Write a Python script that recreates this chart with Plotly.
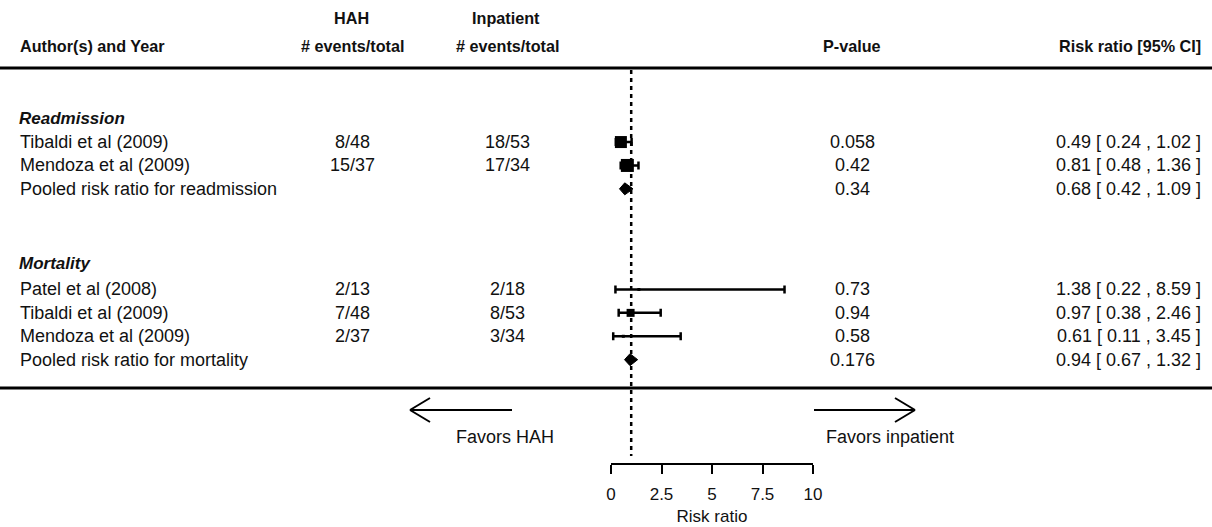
import plotly.graph_objects as go

# ---------------- data ----------------
authors = ["Tibaldi et al (2009)", "Mendoza et al (2009)", "Pooled risk ratio for readmission",
           "Patel et al (2008)", "Tibaldi et al (2009)", "Mendoza et al (2009)",
           "Pooled risk ratio for mortality"]
hah_events = ["8/48", "15/37", "", "2/13", "7/48", "2/37", ""]
inp_events = ["18/53", "17/34", "", "2/18", "8/53", "3/34", ""]
p_values = ["0.058", "0.42", "0.34", "0.73", "0.94", "0.58", "0.176"]
rr_est = [0.49, 0.81, 0.68, 1.38, 0.97, 0.61, 0.94]
rr_lo = [0.24, 0.48, 0.42, 0.22, 0.38, 0.11, 0.67]
rr_hi = [1.02, 1.36, 1.09, 8.59, 2.46, 3.45, 1.32]
is_pooled = [False, False, True, False, False, False, True]
sections = ["Readmission", "Mortality"]
x_ticks = [0, 2.5, 5, 7.5, 10]
x_tick_labels = ["0", "2.5", "5", "7.5", "10"]

# ---------------- layout constants ----------------
W, H = 1212, 527
ROW0_PX, ROW_PX = 118.65, 23.4          # pixel of row 0, pixels per row
rows = [1, 2, 3, 7.3, 8.3, 9.3, 10.3]   # row position of each line
section_rows = [0, 6.2]
sq_sizes = [12, 13, 0, 3, 8, 3, 0]
AX_L, AX_R = 611, 813                    # pixel extent of 0..10 risk-ratio axis
FONT = "Liberation Sans, Arial, sans-serif"
TXT = "#111111"
BODY = 18
HEAD = 16.2

def pxx(p):
    return p / W

def pyr(p):
    return (p - ROW0_PX) / ROW_PX

y_range = [pyr(H), pyr(0)]

fig = go.Figure()

# study squares with CI
idx = [i for i in range(len(authors)) if not is_pooled[i]]
fig.add_trace(go.Scatter(
    x=[rr_est[i] for i in idx], y=[rows[i] for i in idx],
    mode="markers",
    marker=dict(symbol="square", size=[sq_sizes[i] for i in idx], color="black", opacity=1,
                line=dict(width=0)),
    error_x=dict(type="data", symmetric=False,
                 array=[rr_hi[i] - rr_est[i] for i in idx],
                 arrayminus=[rr_est[i] - rr_lo[i] for i in idx],
                 color="black", thickness=2.5, width=4),
    showlegend=False, hoverinfo="skip", cliponaxis=False))

# pooled diamonds
dh = 6 / ROW_PX
for i in range(len(authors)):
    if is_pooled[i]:
        y = rows[i]
        fig.add_trace(go.Scatter(
            x=[rr_lo[i], rr_est[i], rr_hi[i], rr_est[i], rr_lo[i]],
            y=[y, y - dh, y, y + dh, y],
            mode="lines", fill="toself", fillcolor="black",
            line=dict(color="black", width=1), showlegend=False, hoverinfo="skip"))

ann = []
def add_text(text, x, y, anchor, size=BODY):
    ann.append(dict(text=text, x=x, y=y, xref="paper", yref="y", xanchor=anchor, yanchor="middle",
                    showarrow=False, font=dict(family=FONT, size=size, color=TXT)))

# headers
hy1, hy2 = pyr(18), pyr(46)
add_text("<b>Author(s) and Year</b>", pxx(18), hy2, "left", HEAD)
add_text("<b>HAH</b>", pxx(351), hy1, "center", HEAD)
add_text("<b># events/total</b>", pxx(352), hy2, "center", HEAD)
add_text("<b>Inpatient</b>", pxx(506), hy1, "center", HEAD)
add_text("<b># events/total</b>", pxx(507), hy2, "center", HEAD)
add_text("<b>P-value</b>", pxx(852), hy2, "center", HEAD)
add_text("<b>Risk ratio [95% CI]</b>", pxx(1203), hy2, "right", HEAD)

for s, r in zip(sections, section_rows):
    add_text(f"<b><i>{s}</i></b>", pxx(17), r, "left", 17)

for i in range(len(authors)):
    r = rows[i]
    add_text(authors[i], pxx(18), r, "left")
    if hah_events[i]:
        add_text(hah_events[i], pxx(352), r, "center")
    if inp_events[i]:
        add_text(inp_events[i], pxx(507), r, "center")
    add_text(p_values[i], pxx(852), r, "center")
    add_text(f"{rr_est[i]:.2f} [ {rr_lo[i]:.2f} , {rr_hi[i]:.2f} ]", pxx(1203), r, "right")

add_text("Favors HAH", pxx(505), pyr(437), "center")
add_text("Favors inpatient", pxx(890), pyr(437), "center")

shapes = []
# horizontal rules
for ypix in (68, 388):
    shapes.append(dict(type="line", xref="paper", yref="y", x0=0, x1=1, y0=pyr(ypix), y1=pyr(ypix),
                       line=dict(color="black", width=3)))
# reference (null) line
shapes.append(dict(type="line", xref="x", yref="y", x0=1, x1=1, y0=pyr(70), y1=pyr(456),
                   line=dict(color="black", width=2.5, dash="4px,4px")))
# arrows
ay = 410
for (tail, tip, arm) in ((512, 410, 430), (814, 915, 895)):
    shapes.append(dict(type="line", xref="paper", yref="y", x0=pxx(tail), x1=pxx(tip),
                       y0=pyr(ay), y1=pyr(ay), line=dict(color="black", width=2)))
    for dy in (-12, 12):
        shapes.append(dict(type="line", xref="paper", yref="y", x0=pxx(tip), x1=pxx(arm),
                           y0=pyr(ay), y1=pyr(ay + dy), line=dict(color="black", width=2)))

fig.update_layout(
    width=W, height=H,
    margin=dict(l=0, r=0, t=0, b=0, autoexpand=False),
    paper_bgcolor="white", plot_bgcolor="rgba(0,0,0,0)",
    showlegend=False,
    xaxis=dict(range=[x_ticks[0], x_ticks[-1]], domain=[pxx(AX_L), pxx(AX_R)],
               anchor="free", position=1 - 464 / H, automargin=False,
               tickvals=x_ticks, ticktext=x_tick_labels, ticks="outside", ticklen=9, tickwidth=2,
               tickcolor="black", showline=True, linewidth=2, linecolor="black",
               showgrid=False, zeroline=False, ticklabelstandoff=6,
               tickfont=dict(family=FONT, size=BODY - 1, color=TXT),
               title=dict(text="Risk ratio", standoff=6, font=dict(family=FONT, size=BODY - 1, color=TXT))),
    yaxis=dict(range=y_range, visible=False, domain=[0, 1], automargin=False),
    annotations=ann, shapes=shapes,
)

fig.write_html("out.html", config={"displayModeBar": False},
               post_script="document.body.style.margin='0';")
